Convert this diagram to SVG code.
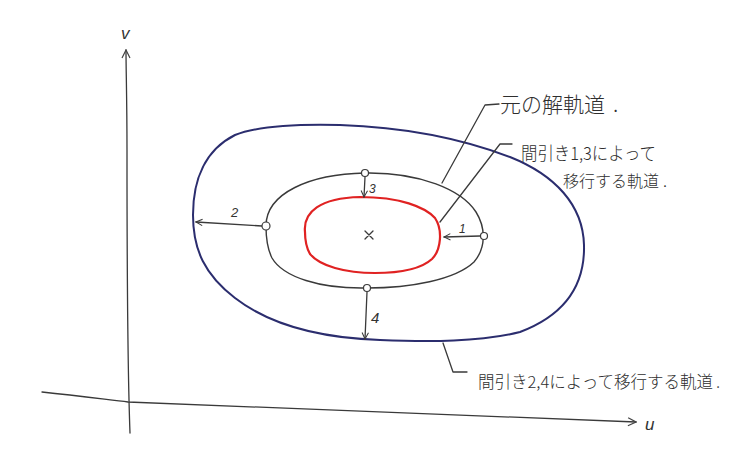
<svg xmlns="http://www.w3.org/2000/svg" width="739" height="451" viewBox="0 0 739 451">
<style>
.ink{fill:none;stroke:#3a3a3a;stroke-width:1.3;stroke-linecap:round;stroke-linejoin:round}
.loop{fill:none;stroke-linejoin:round}
.pt{fill:#ffffff;stroke:#3a3a3a;stroke-width:1.2}
.lbl{font-family:"Liberation Sans","Noto Sans CJK JP",sans-serif;fill:#333;font-style:italic}
.jp{font-family:"Noto Sans CJK JP","Noto Sans CJK SC",sans-serif;fill:#2e2e2e;font-weight:300}
</style>
<defs>
<marker id="arr" viewBox="0 0 10 10" refX="9" refY="5" markerWidth="8" markerHeight="8" orient="auto" markerUnits="userSpaceOnUse">
<path d="M1,1 L9,5 L1,9" fill="none" stroke="#3a3a3a" stroke-width="1.3"/>
</marker>
<marker id="arrAx" viewBox="0 0 10 10" refX="9" refY="5" markerWidth="10" markerHeight="10" orient="auto" markerUnits="userSpaceOnUse">
<path d="M1,1 L9,5 L1,9" fill="none" stroke="#444" stroke-width="1.2"/>
</marker>
</defs>
<rect width="739" height="451" fill="#ffffff"/>

<g id="axes">
<path class="ink" d="M130,433 C128,380 127,250 127,150 C127,100 126,70 126,50" stroke="#444" marker-end="url(#arrAx)"/>
<path class="ink" d="M42,392 C80,396 110,400 128,402 C200,406 400,414 636,422" stroke="#555" marker-end="url(#arrAx)"/>
<text class="lbl" x="121" y="39" font-size="17">v</text>
<text class="lbl" x="645" y="430" font-size="17">u</text>
</g>

<g id="outer-orbit">
<path class="loop" stroke="#2b2d6e" stroke-width="2" d="M193,215 C193,180 205,150 235,135 C260,125 300,124 340,125 C400,127 460,138 510,157 C555,175 583,205 584,245 C585,285 565,315 520,332 C480,342 430,342 380,340 C320,338 270,325 235,298 C205,275 193,250 193,215 Z"/>
</g>

<g id="original-orbit">
<path class="loop" stroke="#3a3a3a" stroke-width="1.4" d="M266,226 C266,193 310,174 365,173 C420,172 462,190 476,212 C486,228 486,248 474,262 C455,280 410,288 367,288 C320,289 283,277 272,258 C267,248 266,236 266,226 Z"/>
</g>

<g id="inner-orbit">
<path class="loop" stroke="#e02222" stroke-width="2.2" d="M305,232 C303,212 320,198 360,197 C400,197 425,207 435,218 C443,230 441,250 432,259 C420,270 395,273 375,273 C345,273 320,266 310,254 C306,247 305,240 305,232 Z"/>
</g>

<g id="center">
<path class="ink" d="M365,231 L373,239 M373,231 L365,239"/>
</g>

<g id="connectors">
<line class="ink" x1="480" y1="236" x2="444" y2="237" marker-end="url(#arr)"/>
<line class="ink" x1="262" y1="226" x2="196" y2="222" marker-end="url(#arr)"/>
<line class="ink" x1="365" y1="177" x2="364" y2="197" marker-end="url(#arr)"/>
<line class="ink" x1="367" y1="292" x2="365" y2="339" marker-end="url(#arr)"/>
<polyline class="ink" points="499,104 485,105 442,183"/>
<polyline class="ink" points="512,144 500,144 440,222"/>
<polyline class="ink" points="443,343 453,372 467,372"/>
</g>

<g id="points">
<circle id="p1" class="pt" cx="484" cy="236" r="3.5" fill="#777"/>
<circle id="p2" class="pt" cx="266" cy="226" r="4"/>
<circle id="p3" class="pt" cx="365" cy="173" r="3.5"/>
<circle id="p4" class="pt" cx="367" cy="288" r="3.5"/>
</g>

<g id="step-labels">
<text class="lbl" x="459" y="233" font-size="12">1</text>
<text class="lbl" x="231" y="217" font-size="13">2</text>
<text class="lbl" x="369" y="193" font-size="12">3</text>
<text class="lbl" x="371" y="323" font-size="15">4</text>
</g>

<g id="annotations">
<text class="jp" x="500" y="112" font-size="21">元の解軌道<tspan dx="8">.</tspan></text>
<text class="jp" x="521" y="160" font-size="18" textLength="135" lengthAdjust="spacingAndGlyphs">間引き1,3によって</text>
<text class="jp" x="563" y="187" font-size="16">移行する軌道<tspan dx="4">.</tspan></text>
<text class="jp" x="478" y="388" font-size="16.5">間引き2,4によって移行する軌道<tspan dx="3">.</tspan></text>
</g>
</svg>
